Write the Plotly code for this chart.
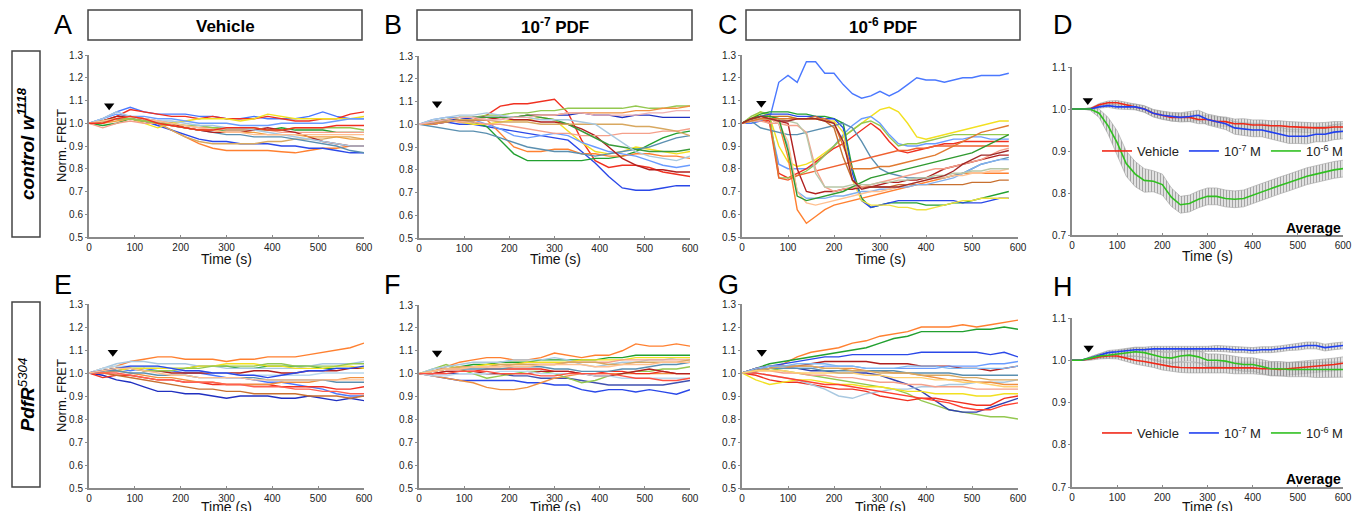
import plotly.graph_objects as go

W, H = 1365, 511

# time grids (s)
t30 = list(range(0, 601, 30))
t20c = list(range(0, 581, 20))
t20 = list(range(0, 601, 20))

RED, BLUE, GREEN, ORANGE, YELLOW = '#f03020', '#2a48e8', '#22a030', '#ff8030', '#f2e020'
LBLUE, SALMON, TAN, STEEL, DRED = '#6a9cff', '#f5a08a', '#d8a860', '#5a8fb0', '#b02020'
LGREEN, PBLUE, PEACH, BROWN, MBLUE = '#94c850', '#a8c8e0', '#ffc090', '#c87030', '#4a78ff'

# ---- A: control, vehicle ----
a_vals = [
    [1.0, 1.01, 1.02, 1.02, 1.01, 1.0, 0.97, 0.94, 0.91, 0.89, 0.88, 0.88, 0.88, 0.88, 0.875, 0.87, 0.88, 0.89, 0.89, 0.90, 0.90],
    [1.0, 1.01, 1.02, 1.02, 1.01, 0.99, 0.97, 0.95, 0.93, 0.92, 0.92, 0.91, 0.91, 0.91, 0.90, 0.90, 0.89, 0.89, 0.88, 0.87, 0.87],
    [1.0, 1.02, 1.05, 1.07, 1.05, 1.04, 1.04, 1.04, 1.03, 1.03, 1.02, 1.02, 1.03, 1.02, 1.02, 1.02, 1.03, 1.05, 1.03, 1.02, 1.02],
    [1.0, 1.01, 1.03, 1.06, 1.05, 1.04, 1.03, 1.03, 1.02, 1.03, 1.02, 1.02, 1.02, 1.03, 1.02, 1.01, 1.01, 1.02, 1.02, 1.04, 1.05],
    [1.0, 1.01, 1.02, 1.02, 1.0, 0.98, 1.0, 1.01, 1.02, 1.02, 1.02, 1.01, 1.02, 1.04, 1.03, 1.02, 1.02, 1.02, 1.02, 1.02, 1.03],
    [1.0, 0.99, 1.0, 1.02, 1.01, 1.0, 0.99, 0.98, 0.97, 0.97, 0.97, 0.97, 0.97, 0.97, 0.98, 0.97, 0.97, 0.97, 0.96, 0.96, 0.96],
    [1.0, 1.0, 1.02, 1.03, 1.02, 1.0, 0.97, 0.94, 0.92, 0.91, 0.91, 0.91, 0.91, 0.92, 0.92, 0.93, 0.93, 0.93, 0.94, 0.94, 0.93],
    [1.0, 1.01, 1.02, 1.02, 1.01, 1.0, 0.99, 0.98, 0.97, 0.96, 0.95, 0.95, 0.94, 0.94, 0.94, 0.93, 0.92, 0.91, 0.90, 0.88, 0.87],
    [1.0, 1.02, 1.04, 1.03, 1.03, 1.02, 1.02, 1.01, 1.0, 1.0, 1.0, 0.99, 0.99, 0.99, 1.0, 1.0, 1.0, 1.0, 1.01, 1.02, 1.02],
    [1.0, 0.98, 1.0, 1.01, 1.0, 1.0, 0.99, 0.99, 0.98, 0.98, 0.97, 0.97, 0.97, 0.97, 0.96, 0.96, 0.96, 0.96, 0.96, 0.96, 0.96],
    [1.0, 1.01, 1.03, 1.03, 1.02, 1.01, 1.0, 0.98, 0.97, 0.96, 0.96, 0.96, 0.97, 0.98, 0.97, 0.96, 0.94, 0.92, 0.91, 0.90, 0.90],
    [1.0, 1.0, 1.01, 1.02, 1.01, 1.0, 0.99, 0.98, 0.97, 0.97, 0.96, 0.96, 0.96, 0.95, 0.95, 0.95, 0.94, 0.94, 0.94, 0.93, 0.93],
    [1.0, 1.01, 1.02, 1.02, 1.01, 1.0, 1.0, 0.99, 0.99, 0.98, 0.98, 0.98, 0.98, 0.97, 0.97, 0.98, 0.98, 0.98, 0.98, 0.98, 0.97],
    [1.0, 1.02, 1.05, 1.03, 1.02, 1.01, 1.01, 1.0, 0.99, 0.99, 0.98, 0.98, 0.97, 0.96, 0.95, 0.94, 0.93, 0.92, 0.91, 0.90, 0.90],
    [1.0, 1.01, 1.02, 1.03, 1.02, 1.01, 1.0, 0.99, 0.98, 0.97, 0.96, 0.96, 0.95, 0.95, 0.95, 0.95, 0.95, 0.95, 0.95, 0.95, 0.95],
    [1.0, 1.0, 1.02, 1.03, 1.02, 1.0, 0.99, 0.98, 0.97, 0.97, 0.98, 0.98, 0.98, 0.97, 0.97, 0.98, 0.98, 0.98, 0.99, 0.99, 0.99],
]
a_colors = [ORANGE, BLUE, MBLUE, RED, YELLOW, GREEN, TAN, STEEL, LBLUE, SALMON, DRED, '#f0a040', LGREEN, PBLUE, PEACH, RED]

# ---- B: control, 10^-7 PDF ----
b_vals = [
    [1.0, 1.0, 1.01, 1.02, 1.02, 1.04, 1.08, 1.09, 1.09, 1.10, 1.11, 1.05, 0.93, 0.84, 0.81, 0.82, 0.82, 0.81, 0.79, 0.78, 0.77],
    [1.0, 1.0, 1.01, 1.0, 1.0, 0.99, 0.98, 0.97, 0.96, 0.95, 0.94, 0.93, 0.88, 0.83, 0.77, 0.72, 0.71, 0.71, 0.72, 0.73, 0.73],
    [1.0, 1.01, 1.02, 1.02, 1.01, 0.99, 0.93, 0.87, 0.84, 0.84, 0.84, 0.84, 0.84, 0.85, 0.85, 0.86, 0.88, 0.91, 0.94, 0.96, 0.97],
    [1.0, 1.01, 1.02, 1.02, 1.03, 1.02, 0.96, 0.90, 0.88, 0.88, 0.89, 0.89, 0.87, 0.87, 0.86, 0.86, 0.87, 0.87, 0.86, 0.86, 0.85],
    [1.0, 1.01, 1.02, 1.03, 1.03, 1.04, 1.04, 1.05, 1.05, 1.06, 1.06, 1.07, 1.07, 1.07, 1.07, 1.07, 1.08, 1.07, 1.07, 1.08, 1.08],
    [1.0, 1.01, 1.02, 1.01, 1.0, 1.0, 1.01, 1.02, 1.02, 1.03, 1.02, 0.97, 0.92, 0.88, 0.87, 0.88, 0.90, 0.89, 0.88, 0.87, 0.88],
    [1.0, 1.02, 1.03, 1.03, 1.02, 1.0, 0.98, 0.95, 0.94, 0.95, 0.96, 0.95, 0.92, 0.90, 0.88, 0.87, 0.86, 0.84, 0.82, 0.81, 0.82],
    [1.0, 0.99, 0.98, 0.97, 0.97, 0.96, 0.94, 0.92, 0.90, 0.89, 0.88, 0.88, 0.87, 0.86, 0.87, 0.88, 0.89, 0.90, 0.92, 0.94, 0.95],
    [1.0, 1.01, 1.02, 1.02, 1.03, 1.03, 1.03, 1.03, 1.04, 1.04, 1.04, 1.04, 1.05, 1.04, 1.04, 1.03, 1.04, 1.04, 1.03, 1.03, 1.03],
    [1.0, 1.0, 1.01, 1.02, 1.02, 1.02, 1.03, 1.03, 1.04, 1.04, 1.04, 1.05, 1.05, 1.05, 1.05, 1.05, 1.06, 1.06, 1.07, 1.07, 1.08],
    [1.0, 1.01, 1.01, 1.02, 1.02, 1.02, 1.03, 1.02, 1.02, 1.01, 1.01, 1.0, 0.98, 0.95, 0.90, 0.85, 0.82, 0.80, 0.80, 0.79, 0.79],
    [1.0, 1.01, 1.02, 1.01, 1.01, 1.0, 1.0, 0.99, 0.98, 0.97, 0.96, 0.96, 0.95, 0.95, 0.95, 0.96, 0.96, 0.96, 0.97, 0.97, 0.98],
    [1.0, 1.01, 1.02, 1.03, 1.03, 1.03, 1.03, 1.03, 1.04, 1.03, 1.02, 1.0, 0.97, 0.94, 0.91, 0.90, 0.89, 0.88, 0.88, 0.88, 0.89],
    [1.0, 1.01, 1.01, 1.02, 1.02, 1.02, 1.01, 1.01, 1.01, 1.0, 1.0, 1.0, 1.0, 1.0, 1.0, 1.0, 0.99, 0.99, 0.98, 0.97, 0.95],
    [1.0, 1.02, 1.03, 1.04, 1.04, 1.05, 1.04, 1.03, 1.03, 1.02, 1.02, 1.02, 1.01, 1.0, 0.96, 0.92, 0.88, 0.86, 0.85, 0.84, 0.86],
    [1.0, 1.01, 1.02, 1.03, 1.03, 1.02, 1.02, 1.03, 1.03, 1.04, 1.04, 1.05, 1.05, 1.04, 1.04, 1.04, 1.04, 1.05, 1.05, 1.06, 1.06],
]
b_colors = [RED, BLUE, GREEN, ORANGE, LGREEN, YELLOW, LBLUE, STEEL, '#2030c0', '#f09040', DRED, SALMON, '#3a9a3a', TAN, PBLUE, '#f0b0b0']

# ---- C: control, 10^-6 PDF (t20c grid) ----
c_vals = [
    [1.0, 1.0, 1.01, 1.02, 1.18, 1.21, 1.18, 1.27, 1.27, 1.22, 1.22, 1.17, 1.13, 1.11, 1.12, 1.14, 1.12, 1.14, 1.17, 1.20, 1.19, 1.19, 1.18, 1.19, 1.20, 1.20, 1.21, 1.21, 1.21, 1.22],
    [1.0, 1.02, 1.05, 1.03, 0.90, 0.83, 0.81, 0.82, 0.84, 0.87, 0.90, 0.94, 0.97, 1.0, 1.03, 1.06, 1.07, 1.05, 1.0, 0.94, 0.93, 0.94, 0.95, 0.96, 0.97, 0.98, 0.99, 1.0, 1.01, 1.01],
    [1.0, 1.02, 1.02, 1.0, 0.82, 0.80, 0.80, 0.80, 0.82, 0.86, 0.90, 0.95, 0.99, 1.02, 1.03, 1.0, 0.95, 0.91, 0.90, 0.90, 0.91, 0.91, 0.92, 0.93, 0.93, 0.94, 0.94, 0.93, 0.93, 0.93],
    [1.0, 1.02, 1.02, 1.01, 0.78, 0.76, 0.78, 0.80, 0.83, 0.86, 0.89, 0.91, 0.94, 0.97, 1.0, 0.97, 0.92, 0.88, 0.87, 0.88, 0.89, 0.90, 0.91, 0.91, 0.92, 0.92, 0.92, 0.92, 0.92, 0.92],
    [1.0, 1.03, 1.05, 1.04, 0.76, 0.76, 0.77, 0.79, 0.82, 0.86, 0.90, 0.94, 0.97, 1.0, 1.01, 0.99, 0.94, 0.90, 0.91, 0.91, 0.92, 0.93, 0.94, 0.95, 0.95, 0.95, 0.95, 0.95, 0.95, 0.95],
    [1.0, 1.02, 1.03, 1.02, 1.0, 0.85, 0.62, 0.56, 0.59, 0.62, 0.64, 0.65, 0.66, 0.67, 0.68, 0.69, 0.70, 0.71, 0.72, 0.73, 0.74, 0.75, 0.76, 0.77, 0.78, 0.78, 0.78, 0.78, 0.78, 0.78],
    [1.0, 1.02, 1.04, 1.05, 1.05, 1.05, 1.04, 1.04, 1.03, 1.03, 1.02, 1.0, 0.80, 0.67, 0.63, 0.64, 0.65, 0.65, 0.65, 0.65, 0.64, 0.64, 0.64, 0.65, 0.65, 0.66, 0.67, 0.68, 0.69, 0.70],
    [1.0, 1.01, 1.03, 1.04, 1.04, 1.04, 1.03, 1.03, 1.03, 1.02, 1.02, 0.98, 0.78, 0.66, 0.63, 0.64, 0.65, 0.66, 0.66, 0.66, 0.66, 0.66, 0.66, 0.66, 0.65, 0.65, 0.65, 0.66, 0.67, 0.67],
    [1.0, 1.01, 1.02, 1.02, 1.03, 1.03, 1.02, 1.02, 1.02, 1.01, 1.01, 0.96, 0.75, 0.66, 0.64, 0.64, 0.64, 0.63, 0.63, 0.62, 0.62, 0.63, 0.64, 0.65, 0.66, 0.66, 0.67, 0.67, 0.67, 0.67],
    [1.0, 1.01, 0.98, 0.97, 0.96, 0.95, 0.95, 0.96, 0.97, 0.98, 0.99, 1.0, 0.98, 0.92, 0.85, 0.80, 0.78, 0.77, 0.76, 0.76, 0.76, 0.76, 0.76, 0.77, 0.78, 0.80, 0.82, 0.83, 0.84, 0.85],
    [1.0, 1.02, 1.02, 1.02, 1.01, 1.0, 0.80, 0.70, 0.69, 0.70, 0.70, 0.71, 0.71, 0.72, 0.72, 0.73, 0.74, 0.74, 0.75, 0.75, 0.76, 0.78, 0.80, 0.81, 0.82, 0.83, 0.84, 0.85, 0.86, 0.86],
    [1.0, 1.02, 1.02, 1.0, 0.76, 0.75, 0.77, 0.78, 0.79, 0.80, 0.81, 0.82, 0.83, 0.84, 0.85, 0.86, 0.87, 0.88, 0.88, 0.89, 0.89, 0.90, 0.90, 0.90, 0.90, 0.90, 0.90, 0.90, 0.90, 0.90],
    [1.0, 1.02, 1.03, 1.03, 1.03, 1.03, 1.02, 1.02, 1.03, 1.01, 0.98, 0.85, 0.75, 0.72, 0.72, 0.72, 0.72, 0.73, 0.73, 0.73, 0.73, 0.73, 0.73, 0.73, 0.73, 0.74, 0.74, 0.74, 0.75, 0.75],
    [1.0, 1.01, 1.01, 1.0, 1.0, 0.99, 0.99, 0.96, 0.80, 0.72, 0.70, 0.71, 0.72, 0.72, 0.73, 0.74, 0.75, 0.76, 0.77, 0.78, 0.79, 0.80, 0.80, 0.81, 0.82, 0.83, 0.84, 0.86, 0.88, 0.89],
    [1.0, 1.01, 1.02, 1.02, 1.0, 0.90, 0.70, 0.67, 0.67, 0.67, 0.68, 0.68, 0.69, 0.70, 0.70, 0.71, 0.71, 0.72, 0.72, 0.73, 0.73, 0.74, 0.75, 0.76, 0.78, 0.80, 0.82, 0.83, 0.84, 0.84],
    [1.0, 1.01, 1.02, 1.02, 1.0, 0.92, 0.70, 0.65, 0.64, 0.65, 0.66, 0.67, 0.68, 0.69, 0.70, 0.70, 0.71, 0.72, 0.73, 0.74, 0.75, 0.76, 0.76, 0.77, 0.77, 0.78, 0.78, 0.79, 0.79, 0.80],
    [1.0, 1.02, 1.03, 1.03, 1.02, 0.88, 0.68, 0.66, 0.67, 0.68, 0.69, 0.70, 0.72, 0.74, 0.76, 0.77, 0.78, 0.79, 0.80, 0.81, 0.82, 0.83, 0.84, 0.85, 0.86, 0.87, 0.89, 0.91, 0.93, 0.95],
    [1.0, 1.01, 1.02, 1.02, 1.02, 1.01, 1.0, 0.95, 0.78, 0.72, 0.72, 0.72, 0.73, 0.73, 0.73, 0.74, 0.74, 0.75, 0.75, 0.76, 0.76, 0.77, 0.77, 0.78, 0.78, 0.79, 0.79, 0.80, 0.80, 0.80],
    [1.0, 1.01, 1.02, 1.02, 1.02, 1.02, 1.02, 1.02, 1.02, 1.02, 1.0, 0.90, 0.80, 0.80, 0.80, 0.81, 0.81, 0.82, 0.83, 0.84, 0.85, 0.86, 0.88, 0.90, 0.92, 0.94, 0.96, 0.97, 0.98, 0.99],
    [1.0, 1.02, 1.03, 1.02, 1.01, 1.01, 1.02, 1.02, 1.02, 1.01, 1.0, 0.92, 0.75, 0.71, 0.72, 0.72, 0.72, 0.72, 0.73, 0.74, 0.75, 0.76, 0.77, 0.79, 0.82, 0.84, 0.86, 0.86, 0.87, 0.88],
]
c_colors = [MBLUE, YELLOW, LBLUE, RED, LGREEN, ORANGE, GREEN, BLUE, '#f0e040', STEEL, DRED, '#f06030', BROWN, SALMON, '#80b0f0', PEACH, '#309a30', '#b8c8a8', '#e07a30', '#a02828']

# ---- D: averages, control ----
d_veh = [1.0, 1.0, 1.0, 1.01, 1.015, 1.015, 1.01, 1.005, 1.0, 0.99, 0.985, 0.98, 0.98, 0.98, 0.975, 0.975, 0.97, 0.97, 0.965, 0.965, 0.962, 0.962, 0.96, 0.96, 0.958, 0.957, 0.955, 0.955, 0.955, 0.957, 0.957]
d_veh_err = [0.0, 0.0, 0.002, 0.003, 0.004, 0.005, 0.006, 0.006, 0.007, 0.008, 0.008, 0.009, 0.009, 0.01, 0.01, 0.01, 0.011, 0.011, 0.011, 0.012, 0.012, 0.012, 0.012, 0.012, 0.012, 0.012, 0.012, 0.012, 0.013, 0.013, 0.013]
d_m7 = [1.0, 1.0, 1.0, 1.005, 1.008, 1.005, 1.005, 1.005, 1.0, 0.99, 0.985, 0.982, 0.98, 0.982, 0.985, 0.975, 0.97, 0.965, 0.955, 0.952, 0.95, 0.95, 0.945, 0.94, 0.935, 0.935, 0.935, 0.94, 0.94, 0.945, 0.947]
d_m7_err = [0.0, 0.0, 0.002, 0.003, 0.004, 0.005, 0.006, 0.007, 0.008, 0.009, 0.01, 0.01, 0.011, 0.012, 0.012, 0.013, 0.014, 0.014, 0.015, 0.015, 0.016, 0.016, 0.016, 0.017, 0.017, 0.017, 0.018, 0.018, 0.018, 0.018, 0.018]
d_m6 = [1.0, 1.0, 1.0, 0.99, 0.96, 0.92, 0.87, 0.845, 0.83, 0.828, 0.82, 0.79, 0.772, 0.775, 0.785, 0.792, 0.792, 0.787, 0.785, 0.787, 0.795, 0.803, 0.81, 0.818, 0.825, 0.833, 0.84, 0.845, 0.85, 0.855, 0.858]
d_m6_err = [0.0, 0.0, 0.003, 0.01, 0.02, 0.028, 0.03, 0.03, 0.028, 0.025, 0.025, 0.022, 0.02, 0.02, 0.02, 0.02, 0.02, 0.02, 0.02, 0.02, 0.02, 0.02, 0.02, 0.02, 0.02, 0.02, 0.02, 0.02, 0.02, 0.02, 0.02]

# ---- E: PdfR, vehicle ----
e_vals = [
    [1.0, 1.02, 1.03, 1.05, 1.06, 1.07, 1.07, 1.06, 1.06, 1.06, 1.05, 1.06, 1.06, 1.07, 1.07, 1.07, 1.08, 1.09, 1.10, 1.11, 1.13],
    [1.0, 0.99, 0.97, 0.96, 0.94, 0.92, 0.92, 0.91, 0.91, 0.90, 0.89, 0.90, 0.90, 0.90, 0.89, 0.89, 0.90, 0.89, 0.88, 0.89, 0.88],
    [1.0, 1.01, 1.02, 1.01, 1.02, 1.01, 1.01, 1.0, 1.0, 0.99, 0.98, 0.98, 0.97, 0.96, 0.96, 0.95, 0.94, 0.93, 0.91, 0.90, 0.90],
    [1.0, 0.98, 0.99, 0.99, 0.98, 0.97, 0.97, 0.96, 0.96, 0.95, 0.95, 0.95, 0.95, 0.95, 0.94, 0.94, 0.94, 0.94, 0.93, 0.93, 0.94],
    [1.0, 1.0, 0.99, 0.98, 0.97, 0.96, 0.95, 0.94, 0.93, 0.93, 0.92, 0.92, 0.91, 0.91, 0.91, 0.91, 0.90, 0.90, 0.90, 0.89, 0.90],
    [1.0, 1.01, 1.02, 1.02, 1.02, 1.02, 1.02, 1.02, 1.03, 1.03, 1.03, 1.02, 1.02, 1.03, 1.03, 1.03, 1.03, 1.02, 1.02, 1.02, 1.02],
    [1.0, 1.02, 1.04, 1.05, 1.05, 1.04, 1.04, 1.04, 1.03, 1.03, 1.02, 1.02, 1.02, 1.02, 1.02, 1.02, 1.03, 1.04, 1.04, 1.04, 1.05],
    [1.0, 1.01, 1.02, 1.02, 1.01, 1.01, 1.0, 1.0, 1.0, 1.0, 1.0, 1.0, 1.01, 1.01, 1.0, 1.0, 1.01, 1.01, 1.01, 1.02, 1.02],
    [1.0, 1.01, 1.01, 1.02, 1.02, 1.02, 1.02, 1.02, 1.03, 1.03, 1.04, 1.04, 1.04, 1.03, 1.03, 1.02, 1.02, 1.02, 1.03, 1.03, 1.02],
    [1.0, 1.0, 1.01, 1.0, 0.99, 0.98, 0.98, 0.97, 0.96, 0.96, 0.95, 0.95, 0.95, 0.95, 0.96, 0.96, 0.96, 0.97, 0.97, 0.98, 0.98],
    [1.0, 1.01, 1.02, 1.02, 1.01, 1.01, 1.01, 1.02, 1.02, 1.03, 1.03, 1.03, 1.03, 1.04, 1.04, 1.03, 1.03, 1.03, 1.03, 1.04, 1.04],
    [1.0, 1.01, 1.01, 1.0, 1.0, 0.99, 0.99, 0.99, 0.98, 0.98, 0.98, 0.98, 0.98, 0.97, 0.97, 0.97, 0.97, 0.97, 0.96, 0.96, 0.96],
    [1.0, 1.0, 1.0, 0.99, 0.98, 0.97, 0.97, 0.96, 0.96, 0.96, 0.95, 0.95, 0.94, 0.94, 0.94, 0.93, 0.93, 0.92, 0.92, 0.91, 0.91],
    [1.0, 1.02, 1.03, 1.03, 1.03, 1.03, 1.02, 1.01, 1.01, 1.0, 1.0, 0.99, 0.99, 0.99, 0.99, 0.99, 0.99, 1.0, 1.0, 1.0, 1.0],
    [1.0, 1.01, 1.02, 1.03, 1.03, 1.03, 1.02, 1.01, 1.01, 1.0, 1.0, 0.99, 0.99, 0.98, 0.99, 1.0, 1.01, 1.01, 1.02, 1.02, 1.03],
    [1.0, 1.01, 1.02, 1.02, 1.01, 1.0, 0.99, 0.99, 0.98, 0.98, 0.98, 0.98, 0.97, 0.97, 0.97, 0.97, 0.97, 0.97, 0.97, 0.97, 0.97],
]
e_colors = [ORANGE, '#2030c0', MBLUE, RED, BROWN, GREEN, PBLUE, DRED, YELLOW, '#f09040', LGREEN, STEEL, '#ff6050', '#b8d8ee', BLUE, PEACH]

# ---- F: PdfR, 10^-7 PDF ----
f_vals = [
    [1.0, 1.01, 1.03, 1.05, 1.06, 1.07, 1.07, 1.06, 1.06, 1.07, 1.09, 1.08, 1.07, 1.08, 1.08, 1.10, 1.13, 1.12, 1.12, 1.13, 1.12],
    [1.0, 0.99, 0.98, 0.97, 0.97, 0.97, 0.97, 0.97, 0.96, 0.96, 0.95, 0.95, 0.93, 0.92, 0.93, 0.93, 0.92, 0.93, 0.92, 0.91, 0.93],
    [1.0, 1.0, 1.0, 1.0, 1.0, 1.0, 1.0, 0.99, 0.99, 0.98, 0.98, 0.98, 0.97, 0.96, 0.95, 0.95, 0.95, 0.95, 0.95, 0.96, 0.97],
    [1.0, 0.99, 0.98, 0.97, 0.96, 0.94, 0.93, 0.93, 0.94, 0.96, 0.98, 0.99, 1.0, 1.0, 1.0, 1.0, 1.0, 1.0, 1.0, 1.0, 1.0],
    [1.0, 1.01, 1.02, 1.03, 1.04, 1.04, 1.05, 1.05, 1.05, 1.06, 1.06, 1.06, 1.06, 1.06, 1.07, 1.07, 1.08, 1.08, 1.08, 1.08, 1.08],
    [1.0, 1.02, 1.04, 1.02, 1.0, 0.98, 0.99, 1.0, 1.01, 1.01, 1.0, 0.98, 0.96, 0.97, 0.99, 1.0, 1.01, 1.01, 1.02, 1.02, 1.03],
    [1.0, 1.0, 1.01, 1.01, 1.01, 1.02, 1.02, 1.02, 1.02, 1.02, 1.01, 1.01, 1.0, 1.0, 1.01, 1.01, 1.0, 1.0, 1.01, 1.0, 1.0],
    [1.0, 1.02, 1.03, 1.04, 1.05, 1.05, 1.05, 1.06, 1.06, 1.06, 1.07, 1.06, 1.04, 1.03, 1.04, 1.05, 1.05, 1.06, 1.06, 1.07, 1.07],
    [1.0, 1.01, 1.02, 1.03, 1.03, 1.04, 1.04, 1.04, 1.05, 1.05, 1.05, 1.05, 1.06, 1.06, 1.06, 1.06, 1.07, 1.07, 1.07, 1.07, 1.07],
    [1.0, 1.01, 1.02, 1.02, 1.02, 1.02, 1.02, 1.03, 1.03, 1.03, 1.02, 1.02, 1.01, 1.01, 1.01, 1.02, 1.02, 1.03, 1.04, 1.04, 1.05],
    [1.0, 1.01, 1.02, 1.02, 1.03, 1.03, 1.03, 1.04, 1.04, 1.04, 1.04, 1.05, 1.05, 1.05, 1.05, 1.06, 1.06, 1.06, 1.06, 1.06, 1.06],
    [1.0, 1.0, 1.01, 1.01, 1.01, 1.0, 1.0, 1.0, 1.0, 1.01, 1.01, 1.01, 1.0, 0.99, 0.99, 1.0, 1.01, 1.02, 1.01, 1.0, 1.0],
    [1.0, 1.01, 1.02, 1.03, 1.03, 1.03, 1.04, 1.04, 1.04, 1.04, 1.04, 1.05, 1.05, 1.05, 1.04, 1.04, 1.05, 1.05, 1.05, 1.05, 1.06],
    [1.0, 0.99, 0.99, 1.0, 1.0, 1.0, 1.01, 1.01, 1.01, 1.0, 1.0, 1.0, 1.0, 0.99, 0.99, 0.98, 0.98, 0.98, 0.98, 0.98, 0.98],
    [1.0, 1.01, 1.02, 1.02, 1.03, 1.03, 1.03, 1.03, 1.03, 1.04, 1.04, 1.04, 1.04, 1.03, 1.03, 1.04, 1.04, 1.04, 1.05, 1.05, 1.05],
    [1.0, 1.0, 1.0, 1.01, 1.01, 1.01, 1.0, 1.0, 1.0, 0.99, 0.99, 1.0, 1.0, 1.0, 1.0, 0.99, 0.98, 0.98, 0.97, 0.97, 0.98],
]
f_colors = [ORANGE, BLUE, '#4050b0', '#f09040', GREEN, LGREEN, RED, PBLUE, YELLOW, STEEL, SALMON, DRED, TAN, '#b8d8ee', PEACH, '#ff5040']

# ---- G: PdfR, 10^-6 PDF ----
g_vals = [
    [1.0, 1.01, 1.02, 1.04, 1.07, 1.09, 1.10, 1.11, 1.13, 1.14, 1.16, 1.17, 1.18, 1.20, 1.20, 1.20, 1.21, 1.20, 1.21, 1.22, 1.23],
    [1.0, 1.02, 1.04, 1.05, 1.06, 1.07, 1.08, 1.09, 1.10, 1.11, 1.13, 1.15, 1.16, 1.18, 1.18, 1.18, 1.18, 1.19, 1.19, 1.20, 1.19],
    [1.0, 1.02, 1.03, 1.04, 1.05, 1.06, 1.07, 1.07, 1.08, 1.08, 1.08, 1.08, 1.08, 1.09, 1.09, 1.09, 1.09, 1.09, 1.08, 1.09, 1.07],
    [1.0, 1.01, 1.02, 1.01, 1.0, 0.99, 0.98, 0.97, 0.96, 0.95, 0.94, 0.93, 0.91, 0.88, 0.86, 0.84, 0.83, 0.82, 0.81, 0.81, 0.80],
    [1.0, 1.01, 1.02, 1.02, 1.02, 1.01, 1.01, 1.0, 1.0, 1.0, 0.99, 0.97, 0.95, 0.92, 0.88, 0.84, 0.83, 0.83, 0.85, 0.87, 0.89],
    [1.0, 0.99, 0.97, 0.96, 0.96, 0.95, 0.94, 0.93, 0.93, 0.92, 0.90, 0.89, 0.88, 0.89, 0.89, 0.88, 0.87, 0.86, 0.86, 0.89, 0.90],
    [1.0, 1.0, 0.99, 0.98, 0.97, 0.95, 0.93, 0.90, 0.89, 0.91, 0.92, 0.93, 0.93, 0.94, 0.94, 0.95, 0.95, 0.96, 0.96, 0.96, 0.97],
    [1.0, 0.97, 0.95, 0.96, 0.97, 0.97, 0.96, 0.95, 0.95, 0.94, 0.94, 0.93, 0.92, 0.92, 0.91, 0.91, 0.91, 0.90, 0.90, 0.91, 0.91],
    [1.0, 1.0, 0.99, 0.98, 0.97, 0.96, 0.95, 0.95, 0.94, 0.93, 0.92, 0.91, 0.90, 0.89, 0.88, 0.87, 0.85, 0.84, 0.84, 0.86, 0.87],
    [1.0, 1.02, 1.03, 1.03, 1.03, 1.04, 1.05, 1.05, 1.05, 1.05, 1.04, 1.04, 1.04, 1.03, 1.03, 1.03, 1.02, 1.02, 1.01, 1.02, 1.03],
    [1.0, 1.01, 1.03, 1.03, 1.02, 1.02, 1.03, 1.03, 1.03, 1.02, 1.02, 1.02, 1.02, 1.02, 1.02, 1.03, 1.03, 1.03, 1.04, 1.04, 1.05],
    [1.0, 1.01, 1.02, 1.02, 1.03, 1.03, 1.02, 1.02, 1.02, 1.01, 1.01, 1.0, 1.0, 0.99, 0.98, 0.97, 0.97, 0.96, 0.96, 0.95, 0.95],
    [1.0, 1.01, 1.01, 1.0, 1.0, 0.99, 0.99, 0.98, 0.98, 0.97, 0.96, 0.96, 0.95, 0.95, 0.94, 0.94, 0.94, 0.93, 0.93, 0.93, 0.93],
    [1.0, 1.01, 1.02, 1.02, 1.02, 1.02, 1.01, 1.01, 1.01, 1.01, 1.01, 1.01, 1.0, 1.0, 1.0, 1.0, 0.99, 0.99, 0.99, 0.99, 0.99],
    [1.0, 1.01, 1.02, 1.03, 1.03, 1.03, 1.02, 1.02, 1.01, 1.01, 1.0, 1.0, 1.0, 0.99, 0.99, 0.99, 0.98, 0.98, 0.97, 0.97, 0.97],
    [1.0, 1.02, 1.03, 1.03, 1.04, 1.04, 1.04, 1.03, 1.03, 1.02, 1.02, 1.02, 1.03, 1.03, 1.03, 1.02, 1.02, 1.02, 1.02, 1.02, 1.03],
    [1.0, 1.01, 1.01, 1.01, 1.0, 1.0, 1.0, 1.0, 1.0, 0.99, 0.99, 0.98, 0.98, 0.98, 0.97, 0.97, 0.96, 0.96, 0.95, 0.94, 0.94],
]
g_colors = [ORANGE, GREEN, BLUE, LGREEN, '#3040b0', RED, PBLUE, YELLOW, '#ff4030', DRED, LBLUE, '#f09040', SALMON, STEEL, TAN, '#80b8f0', '#ffd070']

# ---- H: averages, PdfR ----
h_veh = [1.0, 1.0, 1.003, 1.008, 1.01, 1.01, 1.005, 1.0, 0.997, 0.993, 0.988, 0.985, 0.983, 0.982, 0.982, 0.982, 0.982, 0.983, 0.982, 0.982, 0.982, 0.98, 0.98, 0.978, 0.98, 0.982, 0.983, 0.985, 0.988, 0.99, 0.993]
h_veh_err = [0.0, 0.0, 0.003, 0.005, 0.006, 0.007, 0.008, 0.009, 0.01, 0.01, 0.011, 0.011, 0.012, 0.012, 0.012, 0.013, 0.013, 0.013, 0.014, 0.014, 0.014, 0.014, 0.015, 0.015, 0.015, 0.015, 0.015, 0.015, 0.015, 0.015, 0.015]
h_m7 = [1.0, 1.0, 1.005, 1.012, 1.018, 1.02, 1.022, 1.025, 1.025, 1.027, 1.027, 1.027, 1.028, 1.028, 1.027, 1.027, 1.028, 1.027, 1.025, 1.025, 1.023, 1.025, 1.025, 1.027, 1.03, 1.032, 1.035, 1.035, 1.03, 1.033, 1.035]
h_m7_err = [0.0, 0.0, 0.003, 0.004, 0.005, 0.005, 0.006, 0.006, 0.006, 0.006, 0.006, 0.006, 0.006, 0.006, 0.006, 0.006, 0.007, 0.007, 0.007, 0.007, 0.007, 0.007, 0.007, 0.007, 0.007, 0.008, 0.008, 0.008, 0.008, 0.008, 0.008]
h_m6 = [1.0, 1.0, 1.005, 1.01, 1.012, 1.015, 1.018, 1.02, 1.018, 1.012, 1.007, 1.005, 1.01, 1.012, 1.008, 1.0, 1.0, 0.998, 0.993, 0.99, 0.99, 0.985, 0.98, 0.98, 0.978, 0.978, 0.978, 0.977, 0.977, 0.977, 0.978]
h_m6_err = [0.0, 0.0, 0.003, 0.005, 0.007, 0.008, 0.009, 0.01, 0.011, 0.012, 0.012, 0.013, 0.013, 0.014, 0.014, 0.015, 0.015, 0.015, 0.016, 0.016, 0.016, 0.016, 0.017, 0.017, 0.017, 0.017, 0.017, 0.018, 0.018, 0.018, 0.018]

# arrowhead (stimulus) positions per panel: (time, value)
arrows = [(44, 1.077), (40, 1.09), (42, 1.088), (35, 1.02), (52, 1.09), (40, 1.09), (43, 1.09), (37, 1.029)]

# panel boxes in pixels: x0, x1, ytop, ybottom
boxes = [(89, 364, 55, 237), (419, 690, 56, 238), (742, 1018, 55, 237), (1072, 1343, 67, 235),
         (89, 364, 304, 488), (419, 690, 305, 488), (742, 1018, 304, 488), (1072, 1343, 318, 487)]
yranges = [[0.5, 1.3]] * 3 + [[0.7, 1.1]] + [[0.5, 1.3]] * 3 + [[0.7, 1.1]]

FONT = 'Liberation Sans'
AXC = '#8a8a8a'


def pxx(x):
    return x / W


def pxy(y):
    return 1 - y / H


fig = go.Figure()
layout = dict(width=W, height=H, margin=dict(l=0, r=0, t=0, b=0, pad=0), autosize=False,
              paper_bgcolor='white', plot_bgcolor='white', showlegend=True,
              font=dict(family=FONT, color='#222'))

for i, (x0, x1, yt, yb) in enumerate(boxes):
    n = '' if i == 0 else str(i + 1)
    layout['xaxis' + n] = dict(domain=[pxx(x0), pxx(x1)], range=[0, 600], dtick=100, anchor='y' + n,
                               showline=True, linecolor=AXC, linewidth=2, ticks='inside', ticklen=2,
                               tickcolor=AXC, tickfont=dict(size=10, color='#222'), showgrid=False,
                               zeroline=False, fixedrange=True, automargin=False)
    layout['yaxis' + n] = dict(domain=[pxy(yb), pxy(yt)], range=yranges[i], dtick=0.1, tickformat='.1f',
                               anchor='x' + n, showline=True, linecolor=AXC, linewidth=2, ticks='outside',
                               ticklen=2, tickcolor=AXC, tickfont=dict(size=10, color='#222'),
                               showgrid=False, zeroline=False, fixedrange=True, automargin=False)


def spaghetti(vals, colors, times, k):
    ax = '' if k == 1 else str(k)
    for v, c in zip(vals, colors):
        fig.add_trace(go.Scatter(x=times, y=v, mode='lines', line=dict(color=c, width=1.4),
                                 xaxis='x' + ax, yaxis='y' + ax, showlegend=False, hoverinfo='skip'))


spaghetti(a_vals, a_colors, t30, 1)
spaghetti(b_vals, b_colors, t30, 2)
spaghetti(c_vals, c_colors, t20c, 3)
spaghetti(e_vals, e_colors, t30, 5)
spaghetti(f_vals, f_colors, t30, 6)
spaghetti(g_vals, g_colors, t30, 7)


def averages(series, k, leg):
    ax = str(k)
    for mean, err, col, name in series:
        lo = [m - e for m, e in zip(mean, err)]
        hi = [m + e for m, e in zip(mean, err)]
        fig.add_trace(go.Scatter(x=t20, y=lo, mode='lines', line=dict(color='#a0a0a0', width=0.6),
                                 xaxis='x' + ax, yaxis='y' + ax, showlegend=False, hoverinfo='skip'))
        fig.add_trace(go.Scatter(x=t20, y=hi, mode='lines', line=dict(color='#a0a0a0', width=0.6),
                                 fill='tonexty', fillcolor='rgba(200,200,200,0.55)',
                                 fillpattern=dict(shape='|', fgcolor='#6a6a6a', bgcolor='rgba(205,205,205,0.6)',
                                                  size=3, solidity=0.35),
                                 xaxis='x' + ax, yaxis='y' + ax, showlegend=False, hoverinfo='skip'))
    for mean, err, col, name in series:
        fig.add_trace(go.Scatter(x=t20, y=mean, mode='lines', line=dict(color=col, width=1.6), name=name,
                                 xaxis='x' + ax, yaxis='y' + ax, legend=leg))


leg_names = ['Vehicle', '10<sup>-7</sup> M', '10<sup>-6</sup> M']
avg_cols = ['#f02818', '#2040f0', '#30c020']
averages([(d_veh, d_veh_err, avg_cols[0], leg_names[0]), (d_m7, d_m7_err, avg_cols[1], leg_names[1]),
          (d_m6, d_m6_err, avg_cols[2], leg_names[2])], 4, 'legend')
averages([(h_veh, h_veh_err, avg_cols[0], leg_names[0]), (h_m7, h_m7_err, avg_cols[1], leg_names[1]),
          (h_m6, h_m6_err, avg_cols[2], leg_names[2])], 8, 'legend2')

# stimulus arrowheads
for k, (ta, va) in enumerate(arrows, start=1):
    ax = '' if k == 1 else str(k)
    fig.add_trace(go.Scatter(x=[ta], y=[va], mode='markers',
                             marker=dict(symbol='triangle-down', size=9, color='black'),
                             xaxis='x' + ax, yaxis='y' + ax, showlegend=False, hoverinfo='skip'))

leg_style = dict(orientation='h', xanchor='right', yanchor='middle', bgcolor='rgba(0,0,0,0)',
                 font=dict(size=13, family=FONT, color='#222'), itemwidth=30, tracegroupgap=0,
                 traceorder='normal', itemclick=False)
layout['legend'] = dict(leg_style, x=pxx(1348), y=pxy(151))
layout['legend2'] = dict(leg_style, x=pxx(1348), y=pxy(433))

ann = []
shapes = []


def text(x, y, s, size, **kw):
    ann.append(dict(x=pxx(x), y=pxy(y), xref='paper', yref='paper', text=s, showarrow=False,
                    xanchor=kw.pop('xanchor', 'center'), yanchor='middle',
                    font=dict(size=size, family=FONT, color=kw.pop('color', '#111')), **kw))


# panel letters
for letter, lx, ly in [('A', 63, 25), ('B', 393, 25), ('C', 728, 25), ('D', 1063, 25),
                       ('E', 63, 285), ('F', 393, 285), ('G', 728, 285), ('H', 1063, 287)]:
    text(lx, ly, letter, 27, color='#000')

# header boxes
for (hx0, hx1), label in zip([(88, 362), (417, 692), (746, 1020)],
                             ['<b>Vehicle</b>', '<b>10<sup>-7</sup> PDF</b>', '<b>10<sup>-6</sup> PDF</b>']):
    shapes.append(dict(type='rect', xref='paper', yref='paper', x0=pxx(hx0), x1=pxx(hx1),
                       y0=pxy(40), y1=pxy(10), line=dict(color='#444', width=1.5)))
    text((hx0 + hx1) / 2, 26, label, 17, color='#000')

# row label boxes
for (ry0, ry1), label in zip([(51, 237), (302, 487)],
                             ['<b><i>control w<sup>1118</sup></i></b>', '<b><i>PdfR</i></b><i><sup>5304</sup></i>']):
    shapes.append(dict(type='rect', xref='paper', yref='paper', x0=pxx(12), x1=pxx(40),
                       y0=pxy(ry1), y1=pxy(ry0), line=dict(color='#444', width=1.5)))
    text(26, (ry0 + ry1) / 2, label, 19, textangle=-90, color='#000')

# axis titles
for cx, cy in [(226, 259), (555, 259), (880, 259), (1207, 256),
               (226, 507), (555, 507), (880, 507), (1207, 507)]:
    text(cx, cy, 'Time (s)', 14)
text(61, 146, 'Norm. FRET', 13, textangle=-90)
text(61, 396, 'Norm. FRET', 13, textangle=-90)

# "Average" tags
text(1343, 228, '<b>Average</b>', 14, xanchor='right', color='#000')
text(1343, 479, '<b>Average</b>', 14, xanchor='right', color='#000')

layout['annotations'] = ann
layout['shapes'] = shapes
fig.update_layout(**layout)

fig.write_html("out.html", config={'displayModeBar': False},
               post_script="document.body.style.margin='0';")
